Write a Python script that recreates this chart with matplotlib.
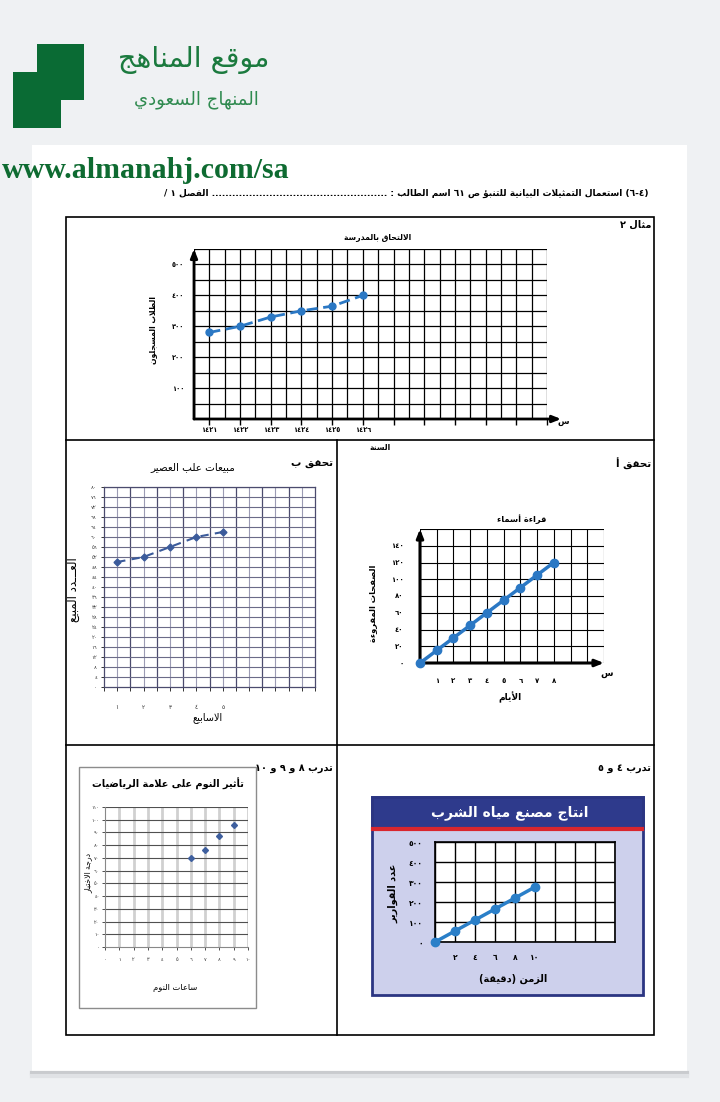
import re
import numpy as np
import matplotlib
matplotlib.use('Agg')
import matplotlib.pyplot as plt
from matplotlib.patches import Rectangle

plt.rcParams['font.family'] = ['DejaVu Sans']

# ---------------- data ----------------
# example 2: school enrolment
c1_years = [1421, 1422, 1423, 1424, 1425, 1426]
c1_students = [280, 300, 330, 350, 365, 400]

# check b: juice boxes sold
b_weeks = [1, 2, 3, 4, 5]
b_sold = [50, 52, 56, 60, 62]

# check a: pages read
a_days = [0, 1, 2, 3, 4, 5, 6, 7, 8]
a_pages = [0, 15, 30, 45, 60, 75, 90, 105, 120]

# practice 8-10: sleep vs maths mark
d_hours = [6, 7, 8, 9]
d_scores = [70, 76, 87, 96]

# practice 4-5: water bottles produced
e_minutes = [0, 2, 4, 6, 8, 10]
e_bottles = [0, 55, 110, 165, 220, 275]


# ---------------- arabic helpers (no shaping engine in matplotlib) ----------------
letters = "ءآأؤإئابةتثجحخدذرزسشصضطظعغفقكلمنهوىي"
counts = [1, 2, 2, 2, 2, 4, 2, 4, 2, 4, 4, 4, 4, 4, 2, 2, 2, 2, 4, 4,
          4, 4, 4, 4, 4, 4, 4, 4, 4, 4, 4, 4, 4, 2, 2, 4]
FORMS = {}
cp = 0xFE80
for ch, n in zip(letters, counts):
    FORMS[ch] = [chr(cp + k) for k in range(n)]
    cp += n
LAMALEF = {'آ': 0xFEF5, 'أ': 0xFEF7, 'إ': 0xFEF9, 'ا': 0xFEFB}
TATWEEL = 'ـ'


def reshape(s):
    out = []
    i = 0
    while i < len(s):
        c = s[i]
        if c not in FORMS:
            out.append(c)
            i += 1
            continue
        prev = s[i - 1] if i > 0 else ''
        joins_prev = (prev in FORMS and len(FORMS[prev]) == 4) or prev == TATWEEL
        if c == 'ل' and i + 1 < len(s) and s[i + 1] in LAMALEF:
            out.append(chr(LAMALEF[s[i + 1]] + (1 if joins_prev else 0)))
            i += 2
            continue
        nxt = s[i + 1] if i + 1 < len(s) else ''
        f = FORMS[c]
        joins_next = len(f) == 4 and ((nxt in FORMS and nxt != 'ء') or nxt == TATWEEL)
        if len(f) == 1:
            g = f[0]
        elif joins_prev and joins_next:
            g = f[3]
        elif joins_prev:
            g = f[1]
        elif joins_next:
            g = f[2]
        else:
            g = f[0]
        out.append(g)
        i += 1
    return ''.join(out)


def ar(s):
    v = reshape(s)[::-1]
    v = re.sub(r'[0-9\u0660-\u0669]+', lambda m: m.group(0)[::-1], v)
    return v.translate(str.maketrans('()', ')('))


def ad(n):
    return str(n).translate(str.maketrans('0123456789', '٠١٢٣٤٥٦٧٨٩'))


# ---------------- page ----------------
W, H = 720, 1102
fig = plt.figure(figsize=(7.2, 11.02), dpi=100)
fig.patch.set_facecolor('#eff1f3')
bg = fig.add_axes([0, 0, 1, 1])
bg.set_xlim(0, W)
bg.set_ylim(H, 0)
bg.axis('off')

bg.add_patch(Rectangle((32, 145), 655, 926, fc='white', ec='none'))
bg.plot([32, 687], [1073, 1073], color='#c9cbce', lw=3)
bg.plot([32, 687], [1076, 1076], color='#e0e2e5', lw=3)

# logo
green = '#0a6b34'
bg.add_patch(Rectangle((37, 44), 47, 56, fc=green, ec='none'))
bg.add_patch(Rectangle((13, 72), 48, 56, fc=green, ec='none'))
bg.text(194, 60, ar('موقع المناهج'), color='#1b7a3e', fontsize=20.5,
        ha='center', va='center')
bg.text(196, 100, ar('المنهاج السعودي'), color='#2f8a4f', fontsize=13,
        ha='center', va='center')
bg.text(2, 170, 'www.almanahj.com/sa', color='#0e6b31', fontsize=21.5,
        fontweight='bold', family='Liberation Serif', ha='left', va='center')

bg.text(648, 193, ar('(٤-٦) استعمال التمثيلات البيانية للتنبؤ ص ٦١ اسم الطالب : '
                     '.................................................... الفصل ١ /'),
        fontsize=6.5, fontweight='bold', ha='right', va='center')

# table frame
bg.add_patch(Rectangle((66, 217), 588, 818, fill=False, ec='black', lw=1.2))
bg.plot([66, 654], [440, 440], color='black', lw=1.2)
bg.plot([337, 337], [440, 1035], color='black', lw=1.2)
bg.plot([66, 654], [745, 745], color='black', lw=1.2)

bg.text(651, 225, ar('مثال ٢'), fontsize=7, fontweight='bold', ha='right', va='center')
bg.text(651, 464, ar('تحقق أ'), fontsize=7.5, fontweight='bold', ha='right', va='center')
bg.text(333, 464, ar('تحقق ب'), fontsize=7.5, fontweight='bold', ha='right', va='center')
bg.text(651, 768, ar('تدرب ٤ و ٥'), fontsize=7, fontweight='bold', ha='right', va='center')
bg.text(333, 768, ar('تدرب ٨ و ٩ و ١٠'), fontsize=7, fontweight='bold', ha='right', va='center')


def add_ax(l, t, r, b):
    return fig.add_axes([l / W, 1 - b / H, (r - l) / W, (b - t) / H])


def arrow_axes(ax, xr=1.0, yt=1.0, lw=2.0):
    for spine in ax.spines.values():
        spine.set_visible(False)
    kw = dict(xycoords='axes fraction', textcoords='axes fraction', annotation_clip=False,
              arrowprops=dict(arrowstyle='-|>,head_length=0.5,head_width=0.2', lw=lw,
                              color='black', shrinkA=0, shrinkB=0))
    ax.annotate('', xy=(xr, 0), xytext=(0, 0), **kw)
    ax.annotate('', xy=(0, yt), xytext=(0, 0), **kw)


blue = '#2b78c4'

# ---------------- chart 1 ----------------
ax1 = add_ax(194, 249, 547, 419)
ax1.set_xlim(1420.5, 1432)
ax1.set_ylim(0, 550)
ax1.set_xticks(np.arange(1420.5, 1432.01, 0.5), minor=True)
ax1.set_yticks(np.arange(0, 551, 50), minor=True)
ax1.set_xticks(range(1421, 1433))
ax1.set_xticklabels([ad(y) if y in c1_years else '' for y in range(1421, 1433)])
ax1.set_yticks([100, 200, 300, 400, 500])
ax1.set_yticklabels([ad(v) for v in [100, 200, 300, 400, 500]])
ax1.grid(which='both', color='black', lw=0.9)
ax1.tick_params(which='minor', length=0)
ax1.tick_params(axis='x', which='major', length=4, width=1, pad=2, labelsize=4.8)
ax1.tick_params(axis='y', which='major', length=0, pad=7, labelsize=4.8)
for lab in ax1.get_xticklabels() + ax1.get_yticklabels():
    lab.set_fontweight('bold')
arrow_axes(ax1, xr=1.04, yt=1.0)
ax1.plot(c1_years, c1_students, color=blue, lw=2, dashes=(4, 2), marker='o', ms=5,
         zorder=5, clip_on=False)
bg.text(378, 237, ar('الالتحاق بالمدرسة'), fontsize=5.5, fontweight='bold', ha='center', va='center')
bg.text(153, 330, ar('الطلاب المسجلون'), fontsize=5.5, fontweight='bold', rotation=90,
        ha='center', va='center')
bg.text(202, 256, ar('ص'), fontsize=5.5, fontweight='bold', ha='center', va='center')
bg.text(563, 421, ar('س'), fontsize=6, fontweight='bold', ha='center', va='center')
bg.text(380, 448, ar('السنة'), fontsize=5.5, fontweight='bold', ha='center', va='center')

# ---------------- chart b ----------------
axb = add_ax(104, 487, 315, 687)
axb.set_xlim(0.5, 8.5)
axb.set_ylim(0, 80)
for v in np.arange(1, 9):
    axb.axvline(v, color='#9b9bb4', lw=0.8, zorder=0)
for v in np.arange(1.5, 8.5, 1):
    axb.axvline(v, color='#4b4b6e', lw=0.9, zorder=0)
for v in range(4, 81, 4):
    axb.axhline(v, color='#6b6b88', lw=0.8, zorder=0)
axb.set_yticks(range(0, 81, 4))
axb.set_yticklabels([ad(v) for v in range(0, 81, 4)])
axb.set_xticks(np.arange(0.5, 8.51, 0.5))
axb.set_xticklabels([ad(int(v)) if v in b_weeks else '' for v in np.arange(0.5, 8.51, 0.5)])
axb.tick_params(axis='y', length=2, width=0.7, pad=3, labelsize=3.8, colors='#333')
axb.tick_params(axis='x', length=3, width=0.7, pad=10, labelsize=4.2, colors='#333')
for name, sp in axb.spines.items():
    sp.set_color('#4b4b6e')
    sp.set_linewidth(0.9)
axb.plot(b_weeks, b_sold, color='#3b5b9b', lw=1.5, dashes=(4, 3), marker='D', ms=3.5, zorder=5)
bg.text(193, 467, ar('مبيعات علب العصير'), fontsize=7.5, ha='center', va='center')
bg.text(73, 590, ar('العـــدد المبيع'), fontsize=8.5, rotation=90, ha='center', va='center')
bg.text(208, 718, ar('الاسابيع'), fontsize=7, ha='center', va='center')

# ---------------- chart a ----------------
axa = add_ax(420, 529, 604, 663)
axa.set_xlim(0, 11)
axa.set_ylim(0, 160)
axa.set_xticks(range(0, 12), minor=True)
axa.set_yticks(range(0, 161, 20), minor=True)
axa.set_xticks(range(1, 9))
axa.set_xticklabels([ad(v) for v in range(1, 9)])
axa.set_yticks(range(0, 141, 20))
axa.set_yticklabels([ad(v) for v in range(0, 141, 20)])
axa.grid(which='both', color='black', lw=0.8)
axa.tick_params(which='both', length=0)
axa.tick_params(axis='x', pad=11, labelsize=5)
axa.tick_params(axis='y', pad=12, labelsize=5)
for lab in axa.get_xticklabels() + axa.get_yticklabels():
    lab.set_fontweight('bold')
arrow_axes(axa, xr=1.0, yt=1.0, lw=2.2)
axa.plot(a_days, a_pages, color=blue, lw=2.5, marker='o', ms=6, zorder=5, clip_on=False)
bg.text(522, 519, ar('قراءة أسماء'), fontsize=6, fontweight='bold', ha='center', va='center')
bg.text(373, 603, ar('الصفحات المقروءة'), fontsize=6, fontweight='bold', rotation=90,
        ha='center', va='center')
bg.text(510, 697, ar('الأيام'), fontsize=6.5, fontweight='bold', ha='center', va='center')
bg.text(428, 536, ar('ص'), fontsize=5.5, fontweight='bold', ha='center', va='center')
bg.text(607, 674, ar('س'), fontsize=6.5, fontweight='bold', ha='center', va='center')

# ---------------- chart d ----------------
bg.add_patch(Rectangle((79, 767), 177, 241, fill=False, ec='#8c8c8c', lw=1))
axd = add_ax(105, 807, 248, 947)
axd.set_xlim(0, 10)
axd.set_ylim(0, 110)
for v in range(1, 11):
    axd.axvline(v, color='#d0d0d0', lw=2, zorder=0)
for v in range(10, 111, 10):
    axd.axhline(v, color='#505050', lw=0.8, zorder=0)
axd.set_xticks(range(0, 11))
axd.set_xticklabels([ad(v) for v in range(0, 11)])
axd.set_yticks(range(0, 111, 10))
axd.set_yticklabels([ad(v) for v in range(0, 111, 10)])
axd.tick_params(axis='x', length=2, width=0.6, pad=5, labelsize=3.6, colors='#333')
axd.tick_params(axis='y', length=2, width=0.6, pad=2, labelsize=3.6, colors='#333')
axd.spines['top'].set_visible(False)
axd.spines['right'].set_visible(False)
axd.spines['left'].set_color('#888')
axd.spines['bottom'].set_color('#888')
axd.plot(d_hours, d_scores, ls='none', marker='D', ms=3, color='#3e5f9e', zorder=5)
bg.text(168, 784, ar('تأثير النوم على علامة الرياضيات'), fontsize=7, fontweight='bold',
        ha='center', va='center')
bg.text(88, 873, ar('درجة الاختبار'), fontsize=5.5, rotation=90, ha='center', va='center')
bg.text(175, 987, ar('ساعات النوم'), fontsize=6, ha='center', va='center')

# ---------------- chart e ----------------
bg.add_patch(Rectangle((372, 797), 271, 198, fc='#cdd0ec', ec='#2b3582', lw=2))
bg.add_patch(Rectangle((372, 797), 271, 31, fc='#2e3a8c', ec='#2b3582', lw=2))
bg.plot([373, 642], [829, 829], color='#d9262e', lw=3)
axe = add_ax(435, 842, 615, 942)
axe.set_facecolor('white')
axe.set_xlim(0, 18)
axe.set_ylim(0, 500)
axe.set_xticks(range(0, 19, 2), minor=True)
axe.set_xticks(range(2, 11, 2))
axe.set_xticklabels([ad(v) for v in range(2, 11, 2)])
axe.set_yticks(range(0, 501, 100))
axe.set_yticklabels([ad(v) for v in range(0, 501, 100)])
axe.grid(which='both', color='black', lw=1)
axe.tick_params(which='both', length=0)
axe.tick_params(axis='x', pad=8, labelsize=5.5)
axe.tick_params(axis='y', pad=9, labelsize=5.5)
for lab in axe.get_xticklabels() + axe.get_yticklabels():
    lab.set_fontweight('bold')
for sp in axe.spines.values():
    sp.set_linewidth(1.2)
axe.plot(e_minutes, e_bottles, color='#2a7fc8', lw=2.5, marker='o', ms=6, zorder=5, clip_on=False)
bg.text(510, 813, ar('انتاج مصنع مياه الشرب'), fontsize=10, fontweight='bold', color='white',
        ha='center', va='center')
bg.text(393, 893, ar('عدد القوارير'), fontsize=7, fontweight='bold', rotation=90,
        ha='center', va='center')
bg.text(513, 979, ar('الزمن (دقيقة)'), fontsize=7, fontweight='bold', ha='center', va='center')

bg.set_xlim(0, W)
bg.set_ylim(H, 0)
fig.savefig('out.png', dpi=100, facecolor=fig.get_facecolor())
